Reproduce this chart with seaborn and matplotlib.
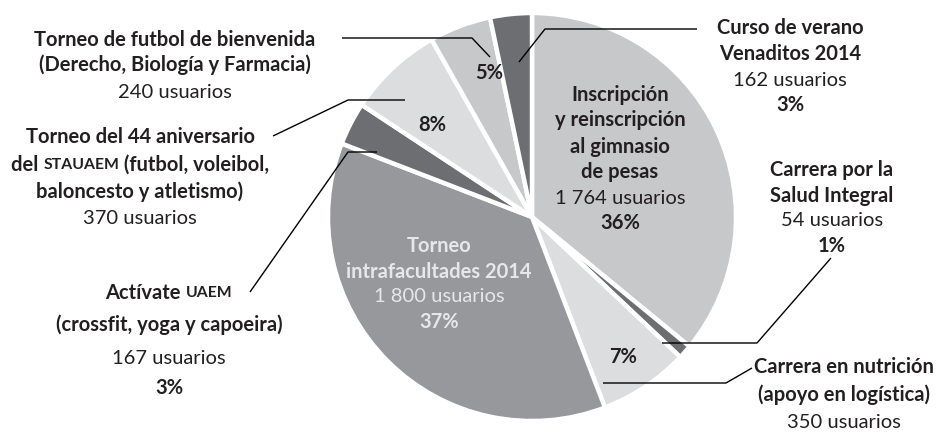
import matplotlib
matplotlib.use("Agg")
import matplotlib.pyplot as plt
import seaborn as sns

# datos
categorias = [
    "Inscripción y reinscripción al gimnasio de pesas",
    "Carrera por la Salud Integral",
    "Carrera en nutrición (apoyo en logística)",
    "Torneo intrafacultades 2014",
    "Actívate UAEM (crossfit, yoga y capoeira)",
    "Torneo del 44 aniversario del STAUAEM",
    "Torneo de futbol de bienvenida",
    "Curso de verano Venaditos 2014",
]
usuarios = [1764, 54, 350, 1800, 167, 370, 240, 162]
colores = ["#c7c8ca", "#6d6e71", "#dcddde", "#97989b",
           "#6d6e71", "#dcddde", "#c7c8ca", "#6d6e71"]

total = sum(usuarios)
pct = [f"{round(v / total * 100)}%" for v in usuarios]
usr = [f"{v:,}".replace(",", " ") + " usuarios" for v in usuarios]

sns.set_style("white")
plt.rcParams['font.family'] = ['Lato', 'DejaVu Sans']

W, H = 939, 432
fig = plt.figure(figsize=(W / 100, H / 100), dpi=100)
ax = fig.add_axes([0, 0, 1, 1])

CX, CY, R = 532, H - 217, 204
ax.pie(usuarios, colors=colores, startangle=90, counterclock=False,
       center=(CX, CY), radius=R,
       wedgeprops=dict(edgecolor="white", linewidth=3.2))
ax.set_xlim(0, W)
ax.set_ylim(0, H)
ax.set_aspect("equal")
ax.axis("off")

renderer = fig.canvas.get_renderer()
INK = "#231f20"
FS = 14.5


def line(x, y, runs, color=INK):
    """runs: list of (texto, negrita, escala); centrado en x, y desde arriba"""
    arts = []
    for txt, bold, sc in runs:
        t = ax.text(0, H - y, txt, fontsize=FS * sc, color=color,
                    fontweight="bold" if bold else "normal",
                    ha="left", va="center")
        arts.append(t)
    widths = [a.get_window_extent(renderer).width for a in arts]
    x0 = x - sum(widths) / 2
    for a, w in zip(arts, widths):
        a.set_x(x0)
        x0 += w


def block(x, ys, lines, color=INK):
    for y, runs in zip(ys, lines):
        line(x, y, runs, color)


def leader(pts):
    ax.plot([p[0] for p in pts], [H - p[1] for p in pts],
            color="black", lw=1.0, solid_capstyle="butt")


B, N = True, False

# dentro del pastel
block(620, [95, 120, 147, 172, 198, 223],
      [[("Inscripción", B, 1)], [("y reinscripción", B, 1)],
       [("al gimnasio", B, 1)], [("de pesas", B, 1)],
       [(usr[0], N, 1)], [(pct[0], B, 1)]])
block(439, [246, 272, 297, 322],
      [[("Torneo", B, 1)], [("intrafacultades 2014", B, 1)],
       [(usr[3], N, 1)], [(pct[3], B, 1)]], color="#e6e7e8")
line(432, 125, [(pct[5], B, 1)])
line(489, 73, [(pct[6], B, 1)])
line(623, 357, [(pct[2], B, 1)])

# etiquetas exteriores
block(175, [40, 65, 92],
      [[("Torneo de futbol de bienvenida", B, 1)],
       [("(Derecho, Biología y Farmacia)", B, 1)],
       [(usr[6], N, 1)]])
block(140, [137, 165, 192, 218],
      [[("Torneo del 44 aniversario", B, 1)],
       [("del ", B, 1), ("STAUAEM", B, 0.78), (" (futbol, voleibol,", B, 1)],
       [("baloncesto y atletismo)", B, 1)],
       [(usr[5], N, 1)]])
block(169, [293, 325, 358, 388],
      [[("Actívate ", B, 1), ("UAEM", B, 0.78)],
       [("(crossfit, yoga y capoeira)", B, 1)],
       [(usr[4], N, 1)], [(pct[4], B, 1)]])
block(790, [28, 54, 80, 105],
      [[("Curso de verano", B, 1)], [("Venaditos 2014", B, 1)],
       [(usr[7], N, 1)], [(pct[7], B, 1)]])
block(832, [170, 196, 220, 246],
      [[("Carrera por la", B, 1)], [("Salud Integral", B, 1)],
       [(usr[1], N, 1)], [(pct[1], B, 1)]])
block(844, [367, 395, 423],
      [[("Carrera en nutrición", B, 1)],
       [("(apoyo en logística)", B, 1)],
       [(usr[2], N, 1)]])

# líneas guía
leader([(342, 38), (472, 38), (490, 57)])
leader([(519, 62), (545, 29), (697, 29)])
leader([(273, 136), (348, 100), (405, 100)])
leader([(250, 292), (348, 152), (377, 152)])
leader([(662, 343), (757, 343), (831, 258)])
leader([(603, 383), (726, 383), (752, 368)])

fig.savefig("out.png", dpi=100, facecolor="white")
